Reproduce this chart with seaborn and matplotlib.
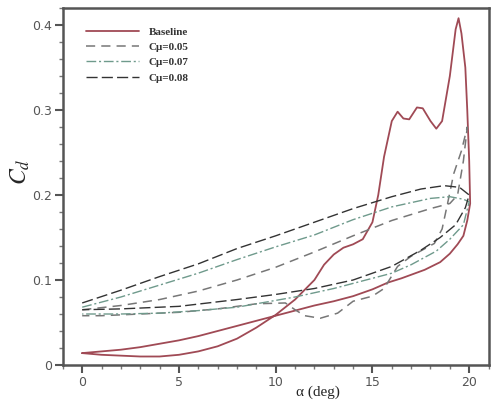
import numpy as np
import pandas as pd
import matplotlib
matplotlib.use("Agg")
import matplotlib.pyplot as plt
from matplotlib.ticker import MultipleLocator
import seaborn as sns

# baseline loop (upstroke then downstroke)
base_alpha = [0, 1, 2, 3, 4, 5, 6, 7, 8, 9, 10, 11, 12, 12.5, 13, 13.5, 14, 14.5, 15, 15.3,
              15.6, 16, 16.3, 16.6, 16.9, 17.3, 17.6, 18, 18.3, 18.6, 19, 19.3, 19.45, 19.6,
              19.8, 19.9, 20.0, 20.05,
              19.9, 19.7, 19.4, 19.0, 18.5, 17.7, 16.5, 15.8, 15, 14, 13, 12, 11, 10, 9, 8,
              7, 6, 5, 4, 3, 2, 1, 0]
base_cd = [0.014, 0.012, 0.011, 0.010, 0.010, 0.012, 0.016, 0.022, 0.031, 0.044, 0.059, 0.077,
           0.100, 0.118, 0.130, 0.138, 0.142, 0.148, 0.168, 0.200, 0.245, 0.287, 0.298, 0.290,
           0.289, 0.303, 0.302, 0.287, 0.278, 0.287, 0.340, 0.395, 0.408, 0.390, 0.350, 0.300,
           0.240, 0.190,
           0.170, 0.152, 0.142, 0.131, 0.121, 0.112, 0.102, 0.097, 0.089, 0.081, 0.075, 0.070,
           0.064, 0.058, 0.052, 0.046, 0.040, 0.034, 0.029, 0.025, 0.021, 0.018, 0.016, 0.014]

# Cmu = 0.05
c05_alpha = [0, 2, 4, 6, 8, 10, 12, 14, 16, 18, 19, 19.4, 19.7, 19.9,
             19.6, 19.2, 18.9, 18.6, 18.2, 17.0, 16.3, 15.6, 15.0, 14.0, 13.2, 12.3, 11.5,
             11.0, 10.5, 9, 7, 5, 3, 1, 0]
c05_cd = [0.065, 0.070, 0.077, 0.087, 0.100, 0.115, 0.133, 0.152, 0.170, 0.184, 0.190, 0.200,
          0.240, 0.280,
          0.252, 0.225, 0.192, 0.160, 0.143, 0.128, 0.116, 0.090, 0.081, 0.075, 0.061, 0.055,
          0.058, 0.065, 0.073, 0.072, 0.066, 0.062, 0.060, 0.058, 0.058]

# Cmu = 0.07
c07_alpha = [0, 2, 4, 6, 8, 10, 12, 14, 16, 18, 19, 19.7, 20.0,
             19.7, 19.0, 18.3, 17.0, 16.0, 14.0, 13.0, 11.0, 8.0, 6.0, 4.0, 2.0, 0]
c07_cd = [0.068, 0.080, 0.094, 0.108, 0.124, 0.139, 0.153, 0.171, 0.186, 0.196, 0.198, 0.195,
          0.192,
          0.165, 0.148, 0.134, 0.118, 0.108, 0.096, 0.090, 0.080, 0.068, 0.064, 0.061, 0.060,
          0.060]

# Cmu = 0.08
c08_alpha = [0, 2, 4, 6, 8, 10, 12, 14, 16, 17.5, 18.7, 19.5, 20.0,
             19.8, 19.3, 18.5, 17.5, 16.0, 14.0, 12.0, 10.0, 8.0, 5.0, 2.0, 0]
c08_cd = [0.073, 0.088, 0.104, 0.119, 0.137, 0.152, 0.168, 0.184, 0.198, 0.207, 0.211, 0.209,
          0.200,
          0.185, 0.165, 0.150, 0.135, 0.116, 0.100, 0.090, 0.083, 0.077, 0.069, 0.066, 0.065]

sns.set_theme(style="ticks")
plt.rcParams['font.family'] = ['DejaVu Sans']
plt.rcParams['mathtext.fontset'] = 'stix'

fig, ax = plt.subplots(figsize=(4.91, 4.0), dpi=100)
fig.subplots_adjust(left=0.128, right=0.995, top=0.98, bottom=0.0875)

common = dict(sort=False, estimator=None, errorbar=None, ax=ax)
sns.lineplot(x=base_alpha, y=base_cd, color="#a04a55", lw=1.3, label="Baseline", **common)
sns.lineplot(x=c05_alpha, y=c05_cd, color="#777777", lw=1.1,
             linestyle=(0, (6, 4)), label="C\u03bc=0.05", **common)
sns.lineplot(x=c07_alpha, y=c07_cd, color="#6f9a8c", lw=1.0,
             linestyle=(0, (7, 2, 1.5, 2)), label="C\u03bc=0.07", **common)
sns.lineplot(x=c08_alpha, y=c08_cd, color="#333333", lw=1.0,
             linestyle=(0, (8, 3)), label="C\u03bc=0.08", **common)

ax.set_xlim(-1, 21)
ax.set_ylim(0, 0.42)
ax.xaxis.set_major_locator(MultipleLocator(5))
ax.xaxis.set_minor_locator(MultipleLocator(1))
ax.set_yticks([0, 0.1, 0.2, 0.3, 0.4])
ax.set_yticklabels(["0", "0.1", "0.2", "0.3", "0.4"])
ax.yaxis.set_minor_locator(MultipleLocator(0.02))

for s in ax.spines.values():
    s.set_color("#555555")
    s.set_linewidth(1.8)
ax.tick_params(which="major", direction="out", length=6, width=1.5, color="#555555",
               labelsize=9, labelcolor="#555555", pad=2)
ax.tick_params(which="minor", direction="out", length=3, width=1, color="#777777")

ax.set_xlabel("\u03b1 (deg)", fontfamily="Liberation Serif", fontsize=11)
ax.xaxis.set_label_coords(0.6, -0.075)
ax.xaxis.label.set_va("center")
ax.set_ylabel("$C_d$", fontsize=17)
ax.yaxis.set_label_coords(-0.1, 0.54)
ax.yaxis.label.set_va("center")

leg = ax.legend(loc="upper left", bbox_to_anchor=(0.03, 0.975), frameon=False,
                handlelength=4.8, handletextpad=0.9, labelspacing=0.5,
                prop={"family": "Liberation Serif", "weight": "bold", "size": 8})
for t in leg.get_texts():
    t.set_color("#333333")

fig.savefig("out.png", dpi=100)
